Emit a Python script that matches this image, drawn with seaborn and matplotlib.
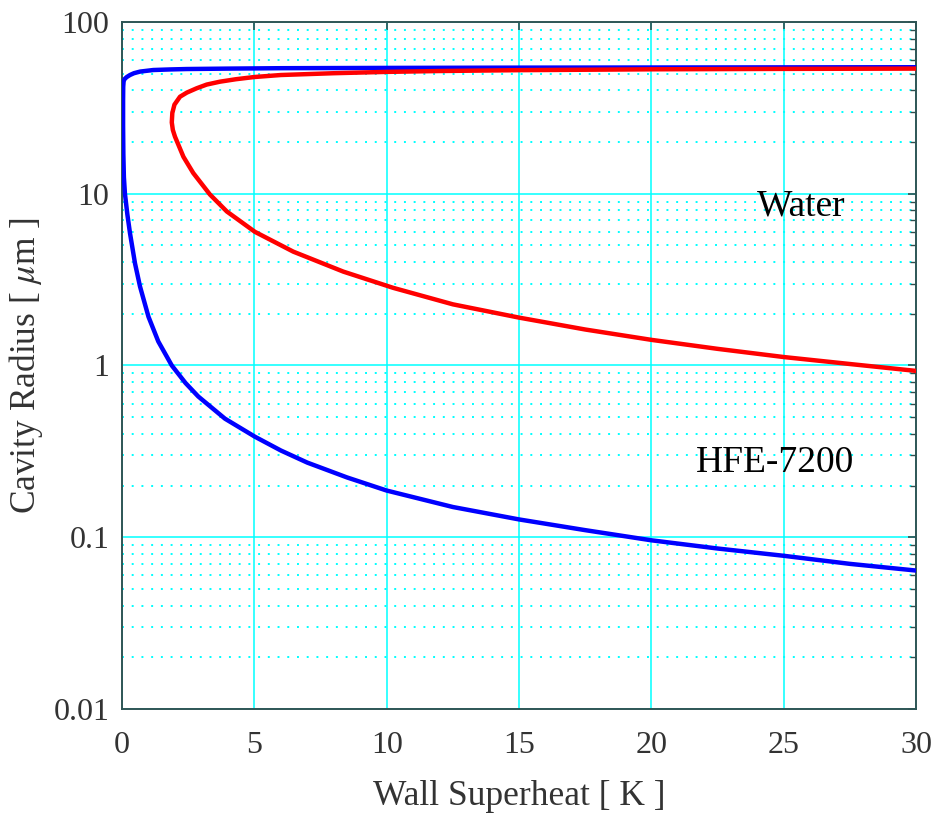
import numpy as np
import matplotlib
matplotlib.use('Agg')
import matplotlib.pyplot as plt
import matplotlib.ticker as mticker
import seaborn as sns

# curves, each traced as one path (upper branch -> nose -> lower branch)
red_x = [30, 25, 20, 15, 12, 10, 8, 6, 5, 4.3, 3.7, 3.2, 2.82, 2.45, 2.19, 1.98, 1.9, 1.88,
         1.92, 2.0, 2.32, 2.69, 3.32, 3.96, 5.02, 6.47, 8.36, 10.25, 12.5, 15, 17.5, 20,
         22.5, 25, 27.5, 30]
red_y = [53.5, 53.3, 53, 52.4, 51.8, 51.2, 50.3, 49.1, 47.8, 46.4, 44.9, 43.2, 41.1, 38.8,
         36.7, 33, 29.5, 26, 23.5, 21.5, 16.4, 13.2, 9.9, 7.88, 6.0, 4.6, 3.52, 2.83, 2.27,
         1.9, 1.62, 1.41, 1.25, 1.12, 1.02, 0.93]

blue_x = [30, 25, 20, 15, 10, 6, 4, 2.44, 1.8, 1.18, 0.68, 0.45, 0.3, 0.18, 0.1, 0.06,
          0.045, 0.04, 0.04, 0.05, 0.07, 0.11, 0.2, 0.3, 0.49, 0.68, 1.0, 1.37, 1.88, 2.4,
          2.88, 3.89, 5.02, 6, 7, 8.5, 10, 12.5, 15, 17.5, 20, 22.5, 25, 27.5, 30]
blue_y = [54.5, 54.4, 54.3, 54.2, 54, 53.8, 53.5, 53.2, 52.9, 52.5, 51.4, 50.3, 49.1, 47.8,
          46.6, 45.2, 42, 35, 25, 17, 12.5, 10, 7.6, 5.9, 3.93, 2.88, 1.92, 1.38, 1.0, 0.79,
          0.66, 0.49, 0.385, 0.32, 0.272, 0.223, 0.187, 0.15, 0.127, 0.11, 0.096, 0.086,
          0.078, 0.07, 0.064]

x_ticks = [0, 5, 10, 15, 20, 25, 30]
y_ticks = [0.01, 0.1, 1, 10, 100]

sns.set_style('white')
plt.rcParams['font.family'] = ['Liberation Serif', 'DejaVu Serif']
plt.rcParams['mathtext.fontset'] = 'stix'

fig = plt.figure(figsize=(9.33, 8.16), dpi=100)
ax = fig.add_axes([0.1308, 0.1311, 0.851, 0.842])

sns.lineplot(x=blue_x, y=blue_y, sort=False, estimator=None, color='#0000ff', lw=3.2, ax=ax, zorder=3)
sns.lineplot(x=red_x, y=red_y, sort=False, estimator=None, color='#ff0000', lw=3.2, ax=ax, zorder=3)

ax.set_yscale('log')
ax.set_xlim(0, 30)
ax.set_ylim(0.01, 100)
ax.set_xticks(x_ticks)
ax.set_yticks(y_ticks)
ax.yaxis.set_major_formatter(mticker.FuncFormatter(lambda v, p: '%g' % v))
ax.yaxis.set_minor_locator(mticker.LogLocator(base=10, subs=np.arange(2, 10)))
ax.yaxis.set_minor_formatter(mticker.NullFormatter())

ax.set_axisbelow(True)
ax.grid(True, which='major', color='#00ffff', lw=1.1, ls='-')
ax.grid(True, which='minor', axis='y', color='#00ffff', lw=1.4, ls=(0, (1, 4)))

for s in ax.spines.values():
    s.set_color('#2f5555')
    s.set_linewidth(1.4)
    s.set_visible(True)

ax.tick_params(which='both', direction='in', top=True, right=True, colors='#2f4f4f',
               labelcolor='#333333', labelsize=23)
ax.tick_params(which='major', length=6, width=1.2)
ax.tick_params(which='minor', length=4, width=1.0)
ax.tick_params(axis='x', which='major', pad=16)
ax.tick_params(axis='y', which='major', pad=9)

ax.set_xlabel('Wall Superheat [ K ]', fontsize=25.5, color='#333333', labelpad=14)
ax.set_ylabel('Cavity Radius [ $\\mu$m ]', fontsize=25.5, color='#333333', labelpad=6)

ax.text(24.0, 8.4, 'Water', fontsize=27, color='black', va='center', ha='left')
ax.text(21.7, 0.27, 'HFE-7200', fontsize=27, color='black', va='center', ha='left')

fig.savefig('out.png', dpi=100)
